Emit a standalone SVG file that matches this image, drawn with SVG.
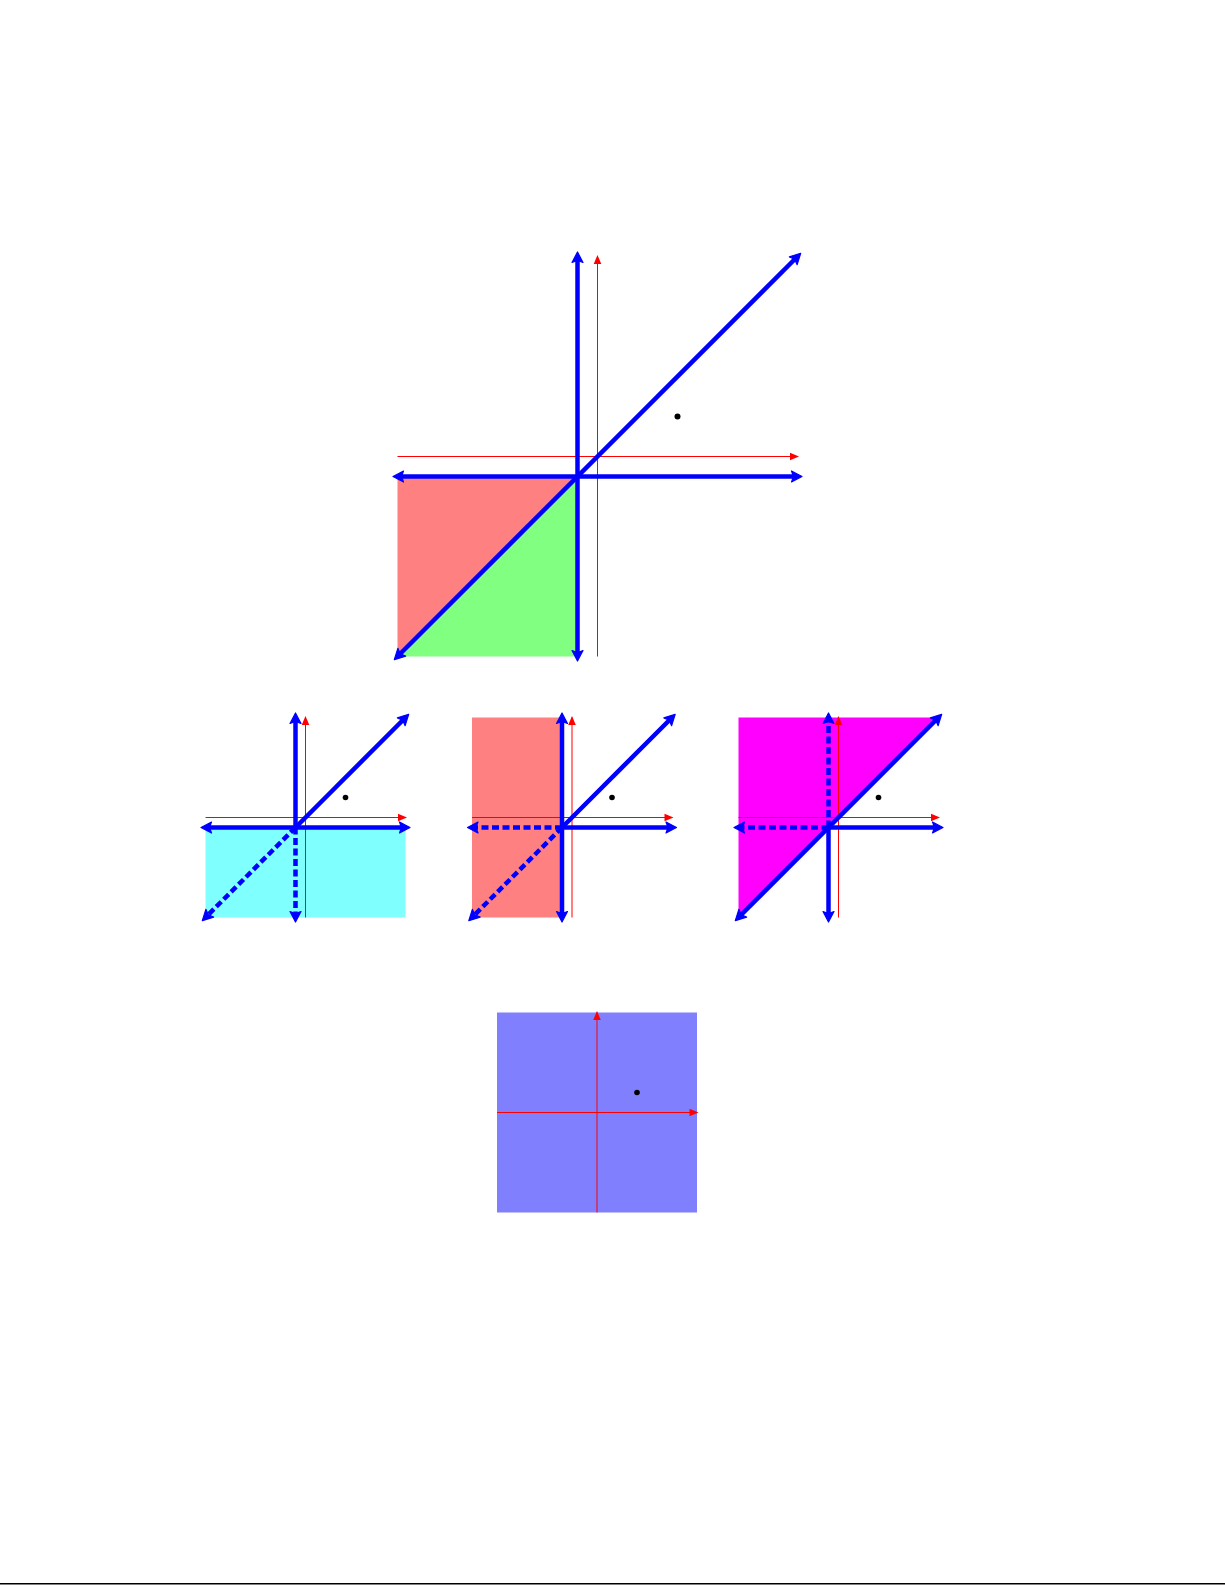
<svg xmlns="http://www.w3.org/2000/svg" width="1225" height="1585" viewBox="0 0 1225 1585">
  <style>
    .ax { stroke: #ff0000; stroke-width: 1; fill: none; marker-end: url(#ra); }
    .bl { stroke: #0000ff; stroke-width: 4.5; fill: none; marker-end: url(#ba); }
    .both { marker-start: url(#ba); }
    .dash { stroke-dasharray: 7 3.5; }
    .dot { fill: #000000; }
  </style>
  <defs>
    <marker id="ba" markerUnits="userSpaceOnUse" markerWidth="20" markerHeight="20" refX="0" refY="0" orient="auto-start-reverse" overflow="visible">
      <path d="M4.5,0 L-6,-5.5 L-4,0 L-6,5.5 Z" fill="#0000ff" stroke="#0000ff" stroke-width="1.2" stroke-linejoin="round"/>
    </marker>
    <marker id="ra" markerUnits="userSpaceOnUse" markerWidth="20" markerHeight="20" refX="0" refY="0" orient="auto" overflow="visible">
      <path d="M1.5,0 L-7.5,-3.8 L-7.5,3.8 Z" fill="#ff0000"/>
    </marker>
  </defs>
  <rect width="1225" height="1585" fill="#ffffff"/>

  <g id="panel-top">
    <polygon points="397.5,476.5 577.5,476.5 397.5,656.5" fill="#ff8080"/>
    <polygon points="577.5,476.5 577.5,656.5 397.5,656.5" fill="#80ff80"/>
    <line class="ax" x1="397.5" y1="456.5" x2="797.5" y2="456.5"/>
    <line class="ax" x1="597.5" y1="656.5" x2="597.5" y2="256.5"/>
    <line class="bl both" x1="577.5" y1="656.5" x2="577.5" y2="256.5"/>
    <line class="bl both" x1="397.5" y1="476.5" x2="797.5" y2="476.5"/>
    <line class="bl both" x1="397.5" y1="656.5" x2="797.5" y2="256.5"/>
    <circle class="dot" cx="677.5" cy="416.5" r="3"/>
  </g>

  <g id="panel-1">
    <rect x="205.5" y="827.5" width="200" height="90" fill="#80ffff"/>
    <line class="ax" x1="205.5" y1="817.5" x2="405.5" y2="817.5"/>
    <line class="ax" x1="305.5" y1="917.5" x2="305.5" y2="717.5"/>
    <line class="bl" x1="295.5" y1="827.5" x2="295.5" y2="717.5"/>
    <line class="bl dash" x1="295.5" y1="827.5" x2="295.5" y2="917.5"/>
    <line class="bl both" x1="205.5" y1="827.5" x2="405.5" y2="827.5"/>
    <line class="bl" x1="295.5" y1="827.5" x2="405.5" y2="717.5"/>
    <line class="bl dash" x1="295.5" y1="827.5" x2="205.5" y2="917.5"/>
    <circle class="dot" cx="345.5" cy="797.5" r="2.8"/>
  </g>

  <g id="panel-2">
    <rect x="472" y="717.5" width="90" height="200" fill="#ff8080"/>
    <line class="ax" x1="472" y1="817.5" x2="672" y2="817.5"/>
    <line class="ax" x1="572" y1="917.5" x2="572" y2="717.5"/>
    <line class="bl both" x1="562" y1="917.5" x2="562" y2="717.5"/>
    <line class="bl dash" x1="562" y1="827.5" x2="472" y2="827.5"/>
    <line class="bl" x1="562" y1="827.5" x2="672" y2="827.5"/>
    <line class="bl" x1="562" y1="827.5" x2="672" y2="717.5"/>
    <line class="bl dash" x1="562" y1="827.5" x2="472" y2="917.5"/>
    <circle class="dot" cx="612" cy="797.5" r="2.8"/>
  </g>

  <g id="panel-3">
    <polygon points="738.5,717.5 938.5,717.5 738.5,917.5" fill="#ff00ff"/>
    <line class="ax" x1="738.5" y1="817.5" x2="938.5" y2="817.5"/>
    <line class="ax" x1="838.5" y1="917.5" x2="838.5" y2="717.5"/>
    <line class="bl dash" x1="828.5" y1="827.5" x2="828.5" y2="717.5"/>
    <line class="bl" x1="828.5" y1="827.5" x2="828.5" y2="917.5"/>
    <line class="bl dash" x1="828.5" y1="827.5" x2="738.5" y2="827.5"/>
    <line class="bl" x1="828.5" y1="827.5" x2="938.5" y2="827.5"/>
    <line class="bl both" x1="738.5" y1="917.5" x2="938.5" y2="717.5"/>
    <circle class="dot" cx="878.5" cy="797.5" r="2.8"/>
  </g>

  <g id="panel-bottom">
    <rect x="497" y="1012.5" width="200" height="200" fill="#8080ff"/>
    <line class="ax" x1="497" y1="1112.5" x2="697" y2="1112.5"/>
    <line class="ax" x1="597" y1="1212.5" x2="597" y2="1012.5"/>
    <circle class="dot" cx="637" cy="1092.5" r="2.8"/>
  </g>

  <line x1="0" y1="1583.7" x2="1225" y2="1583.7" stroke="#000000" stroke-width="1.5"/>
</svg>
